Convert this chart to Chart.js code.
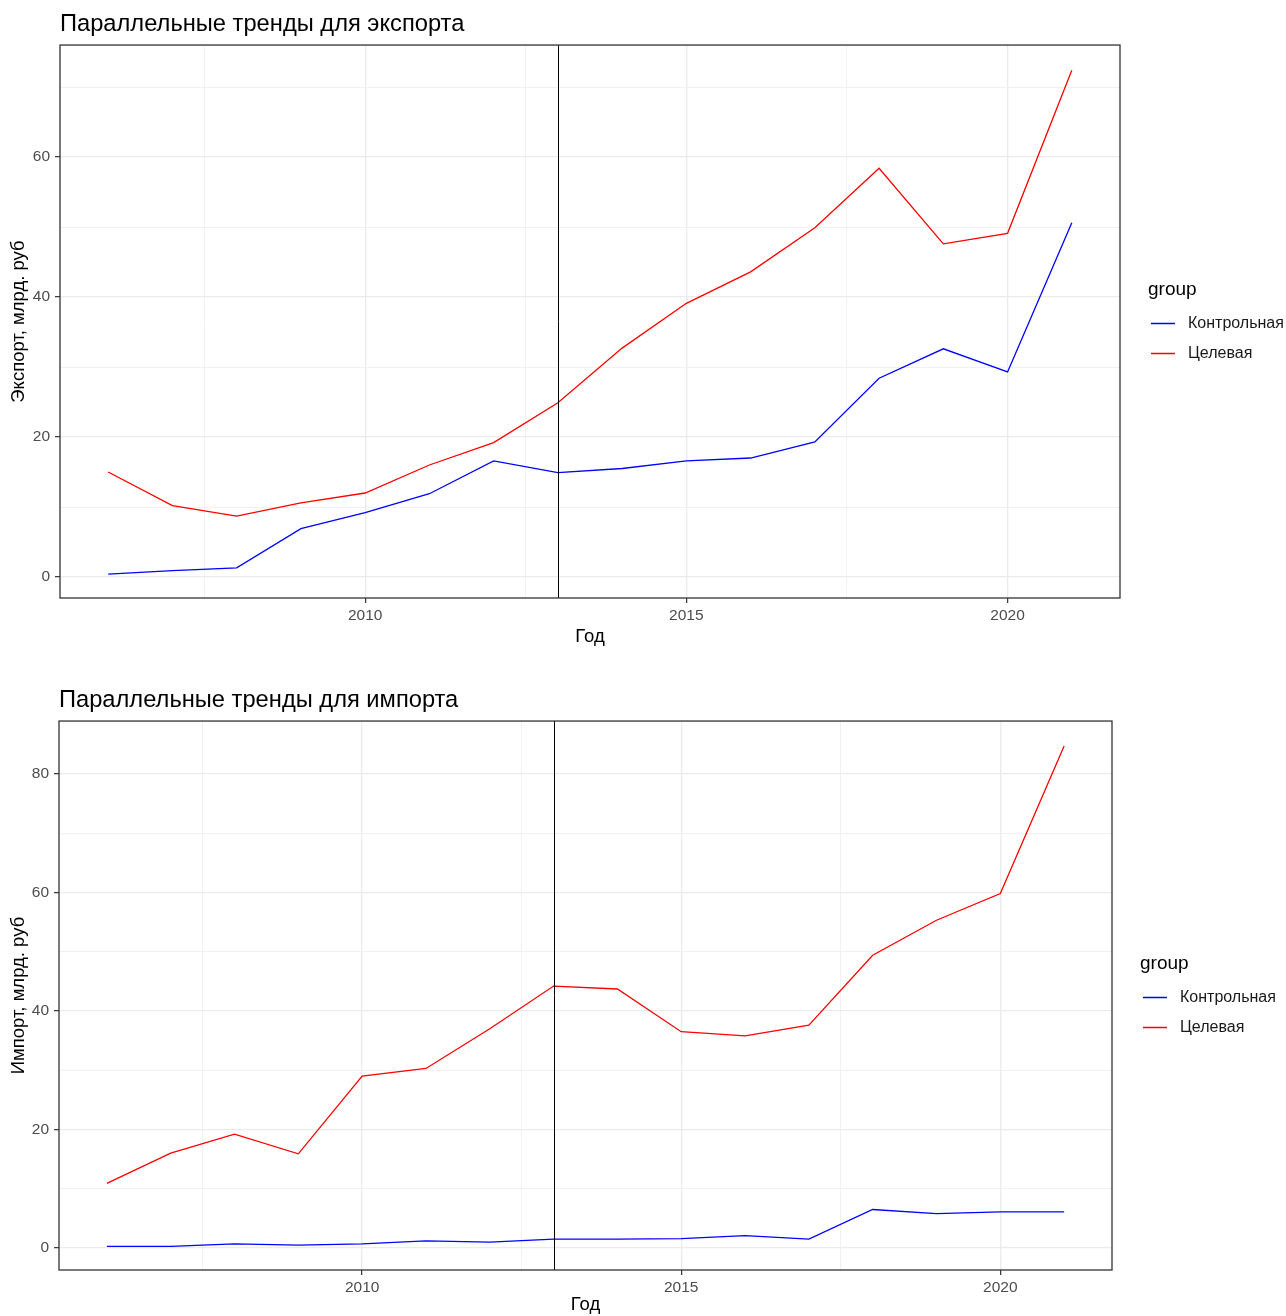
<!DOCTYPE html>
<html lang="ru">
<head>
<meta charset="utf-8">
<title>Параллельные тренды</title>
<script src="https://cdn.jsdelivr.net/npm/chart.js@4.4.1/dist/chart.umd.min.js"></script>
<style>
  html, body { margin: 0; padding: 0; background: #fff; }
  canvas { display: block; }
</style>
</head>
<body>
<canvas id="chartExport" width="1286" height="658"></canvas>
<canvas id="chartImport" width="1286" height="658"></canvas>
<script>
// Годы и значения (млрд. руб)
const years = [2006, 2007, 2008, 2009, 2010, 2011, 2012, 2013, 2014, 2015, 2016, 2017, 2018, 2019, 2020, 2021];
const groupLabels = ['Контрольная', 'Целевая'];
const groupColors = ['#0000ff', '#ff0000'];

const exportControl = [0.4, 0.9, 1.3, 6.9, 9.2, 11.9, 16.6, 14.9, 15.5, 16.6, 17.0, 19.3, 28.4, 32.6, 29.3, 50.6];
const exportTarget  = [15.0, 10.2, 8.7, 10.6, 12.0, 16.0, 19.2, 24.9, 32.7, 39.1, 43.6, 49.9, 58.4, 47.6, 49.1, 72.4];
const importControl = [0.3, 0.3, 0.7, 0.5, 0.7, 1.2, 1.0, 1.5, 1.5, 1.6, 2.1, 1.5, 6.5, 5.8, 6.1, 6.1];
const importTarget  = [10.9, 16.0, 19.2, 15.9, 29.0, 30.3, 37.0, 44.2, 43.7, 36.5, 35.8, 37.6, 49.4, 55.3, 59.8, 84.7];

// Сетка и подписи осей
const xGridTicks = [2007.5, 2010, 2012.5, 2015, 2017.5, 2020];
const xTickLabels = [2010, 2015, 2020];
const exportYTicks = [0, 10, 20, 30, 40, 50, 60, 70];
const importYTicks = [0, 10, 20, 30, 40, 50, 60, 70, 80];
const yTickLabels = [0, 20, 40, 60, 80];
const treatmentYear = 2013;

const FONT = '"Liberation Sans", Arial, sans-serif';
Chart.defaults.font.family = FONT;

// Рамка панели, вертикальная линия и легенда в стиле ggplot
const panelPlugin = {
    id: 'panel',
    afterDatasetsDraw(chart, args, opts) {
        const { ctx, chartArea: a } = chart;
        const x = Math.round(chart.scales.x.getPixelForValue(opts.vline)) + 0.5;
        ctx.save();
        ctx.strokeStyle = '#000';
        ctx.lineWidth = 1;
        ctx.beginPath();
        ctx.moveTo(x, a.top);
        ctx.lineTo(x, a.bottom);
        ctx.stroke();
        ctx.strokeStyle = '#333333';
        ctx.lineWidth = 1.3;
        ctx.strokeRect(a.left, a.top, a.right - a.left, a.bottom - a.top);
        ctx.restore();
    },
    afterDraw(chart, args, opts) {
        const { ctx, chartArea: a } = chart;
        const mid = (a.top + a.bottom) / 2;
        ctx.save();
        ctx.textBaseline = 'middle';
        ctx.textAlign = 'left';
        ctx.fillStyle = '#000';
        ctx.font = '19px ' + FONT;
        ctx.fillText(opts.legendTitle, a.right + 28, mid - 31.5);
        ctx.font = '16px ' + FONT;
        chart.data.datasets.forEach((ds, i) => {
            const y = Math.round(mid + 1.5 + i * 29.5) + 0.5;
            ctx.strokeStyle = ds.borderColor;
            ctx.lineWidth = 1.5;
            ctx.beginPath();
            ctx.moveTo(a.right + 31, y);
            ctx.lineTo(a.right + 55, y);
            ctx.stroke();
            ctx.fillStyle = '#1a1a1a';
            ctx.fillText(ds.label, a.right + 68, y);
        });
        ctx.restore();
    }
};

function isMajorX(v) { return xTickLabels.includes(v); }
function isMajorY(v) { return yTickLabels.includes(v); }

function makeChart(id, cfg) {
    const el = document.getElementById(id);
    const series = [cfg.control, cfg.target];
    return new Chart(el, {
        type: 'line',
        data: {
            datasets: series.map((vals, i) => ({
                label: groupLabels[i],
                data: years.map((yr, j) => ({ x: yr, y: vals[j] })),
                borderColor: groupColors[i],
                backgroundColor: groupColors[i],
                borderWidth: 1.3,
                pointRadius: 0,
                tension: 0
            }))
        },
        options: {
            responsive: false,
            devicePixelRatio: 1,
            animation: false,
            layout: { padding: { left: 0, right: cfg.padRight, top: 0, bottom: 0 } },
            scales: {
                x: {
                    type: 'linear',
                    min: 2005.25,
                    max: 2021.75,
                    afterBuildTicks: axis => { axis.ticks = xGridTicks.map(v => ({ value: v })); },
                    afterFit: axis => { axis.height = cfg.xAxisHeight; },
                    border: { display: false },
                    grid: {
                        color: c => isMajorX(c.tick.value) ? '#ebebeb' : '#efefef',
                        lineWidth: c => isMajorX(c.tick.value) ? 1.3 : 0.9,
                        tickColor: c => isMajorX(c.tick.value) ? '#333333' : 'rgba(0,0,0,0)',
                        tickLength: 5,
                        tickWidth: 1.2
                    },
                    ticks: {
                        autoSkip: false,
                        maxRotation: 0,
                        padding: 3,
                        color: '#4d4d4d',
                        font: { size: 15.5 },
                        callback: v => isMajorX(v) ? String(v) : ''
                    },
                    title: {
                        display: true,
                        text: 'Год',
                        color: '#000',
                        font: { size: 18.5 },
                        padding: { top: 0, bottom: cfg.xTitlePad }
                    }
                },
                y: {
                    type: 'linear',
                    min: cfg.yMin,
                    max: cfg.yMax,
                    afterBuildTicks: axis => { axis.ticks = cfg.yTicks.map(v => ({ value: v })); },
                    afterFit: axis => { axis.width = cfg.yAxisWidth; },
                    border: { display: false },
                    grid: {
                        color: c => isMajorY(c.tick.value) ? '#ebebeb' : '#efefef',
                        lineWidth: c => isMajorY(c.tick.value) ? 1.3 : 0.9,
                        tickColor: c => isMajorY(c.tick.value) ? '#333333' : 'rgba(0,0,0,0)',
                        tickLength: 5,
                        tickWidth: 1.2
                    },
                    ticks: {
                        autoSkip: false,
                        padding: 5,
                        color: '#4d4d4d',
                        font: { size: 15.5 },
                        callback: v => isMajorY(v) ? String(v) : ''
                    },
                    title: {
                        display: true,
                        text: cfg.yTitle,
                        color: '#000',
                        font: { size: 18.5 },
                        padding: { top: 8, bottom: 0 }
                    }
                }
            },
            plugins: {
                legend: { display: false },
                tooltip: { enabled: false },
                title: {
                    display: true,
                    text: cfg.title,
                    align: 'start',
                    fullSize: false,
                    color: '#000',
                    font: { size: 23.7, weight: 'normal' },
                    padding: { top: cfg.titlePadTop, bottom: 6 }
                },
                panel: { vline: treatmentYear, legendTitle: 'group' }
            }
        },
        plugins: [panelPlugin]
    });
}

makeChart('chartExport', {
    title: 'Параллельные тренды для экспорта',
    yTitle: 'Экспорт, млрд. руб',
    control: exportControl,
    target: exportTarget,
    yMin: -3.0,
    yMax: 76.0,
    yTicks: exportYTicks,
    padRight: 166,
    yAxisWidth: 60,
    xAxisHeight: 60,
    xTitlePad: 10,
    titlePadTop: 10.6
});

makeChart('chartImport', {
    title: 'Параллельные тренды для импорта',
    yTitle: 'Импорт, млрд. руб',
    control: importControl,
    target: importTarget,
    yMin: -3.7,
    yMax: 88.9,
    yTicks: importYTicks,
    padRight: 174,
    yAxisWidth: 59,
    xAxisHeight: 46,
    xTitlePad: 0,
    titlePadTop: 28.6
});
</script>
</body>
</html>
